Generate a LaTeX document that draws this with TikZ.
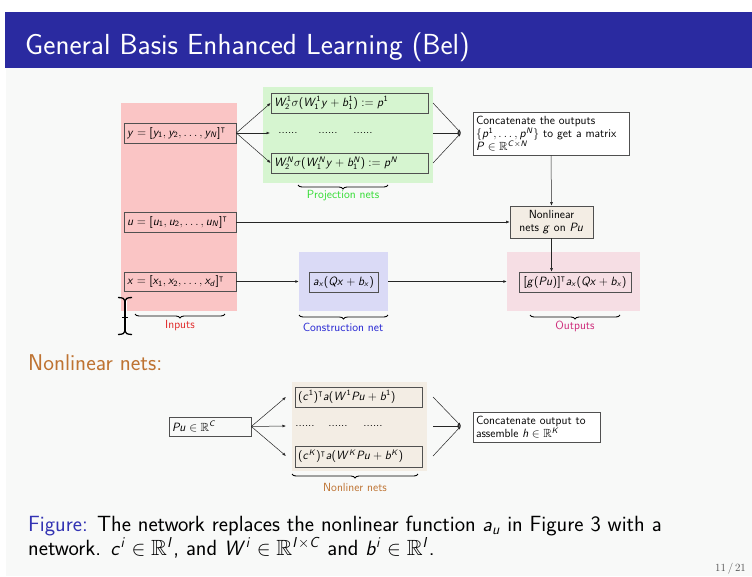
\documentclass[tikz,border=0pt]{standalone}
\usepackage{amsmath,amssymb}
\SetSymbolFont{operators}{normal}{OT1}{cmss}{m}{n}
\DeclareSymbolFont{sfletters}{OT1}{cmss}{m}{sl}
\newcommand\sfl[1]{\DeclareMathSymbol{#1}{\mathalpha}{sfletters}{`#1}}
\sfl a\sfl b\sfl c\sfl d\sfl e\sfl f\sfl g\sfl h\sfl i\sfl j\sfl k\sfl l\sfl m
\sfl n\sfl o\sfl p\sfl q\sfl r\sfl s\sfl t\sfl u\sfl v\sfl w\sfl x\sfl y\sfl z
\sfl A\sfl B\sfl C\sfl D\sfl E\sfl F\sfl G\sfl H\sfl I\sfl J\sfl K\sfl L\sfl M
\sfl N\sfl O\sfl P\sfl Q\sfl R\sfl S\sfl T\sfl U\sfl V\sfl W\sfl X\sfl Y\sfl Z
\usetikzlibrary{arrows.meta,decorations.pathreplacing,calc}
\definecolor{titleblue}{RGB}{42,42,160}
\definecolor{bodybg}{RGB}{248,249,248}
\definecolor{inred}{RGB}{250,197,197}
\definecolor{projgreen}{RGB}{214,245,208}
\definecolor{consblue}{RGB}{218,218,246}
\definecolor{outpink}{RGB}{246,222,228}
\definecolor{beige}{RGB}{243,237,228}
\definecolor{boxgray}{RGB}{80,80,80}
\definecolor{lblgreen}{RGB}{51,220,51}
\definecolor{lblred}{RGB}{225,40,40}
\definecolor{lblblue}{RGB}{35,35,210}
\definecolor{lblmag}{RGB}{205,40,120}
\definecolor{lblorange}{RGB}{190,115,50}
\definecolor{figblue}{RGB}{51,51,179}
\begin{document}
\begin{tikzpicture}[x=1pt,y=-1pt,
  font=\sffamily,
  dfont/.style={font=\fontsize{11.8}{13.2}\selectfont\sffamily},
  bgrect/.style={draw=none,inner sep=0pt,minimum width=#1},
  ebox/.style={draw=boxgray,line width=0.6pt,inner sep=0pt,dfont},
  lbox/.style={ebox,align=left,inner xsep=3pt,text width=#1},
  dots/.style={dfont,inner sep=0pt},
  conn/.style={draw=black!85,line width=0.5pt,-{Latex[length=3.5pt,width=2.8pt]}},
  bracestyle/.style={decorate,decoration={brace,mirror,amplitude=4pt},line width=0.9pt},
  lbl/.style={dfont,inner sep=0pt}
]
\useasboundingbox (0,0) rectangle (752,576);
% background
\fill[white] (0,0) rectangle (752,576);
\fill[bodybg] (6,68) rectangle (752,576);
\fill[titleblue] (5,12) rectangle (752,68);
\node[anchor=base west,inner sep=0pt,text=white,font=\fontsize{29}{35}\selectfont\sffamily] (title) at (25,54) {General Basis Enhanced Learning (Bel)};

% ---- upper diagram backgrounds
\node[bgrect=116pt,minimum height=208pt,fill=inred] (inbg) at (179,207) {};
\node[bgrect=170pt,minimum height=96pt,fill=projgreen] (projbg) at (348,135) {};
\node[bgrect=89pt,minimum height=59pt,fill=consblue] (consbg) at (343.5,281.5) {};
\node[bgrect=133pt,minimum height=59pt,fill=outpink] (outbg) at (573.5,281.5) {};

% inputs
\node[lbox=106pt,minimum height=20pt] (ybox) at (180,133) {$y=[y_1,y_2,\ldots,y_N]^\intercal$};
\node[lbox=106pt,minimum height=20pt] (ubox) at (180,222) {$u=[u_1,u_2,\ldots,u_N]^\intercal$};
\node[lbox=106pt,minimum height=19pt] (xbox) at (180,281.5) {$x=[x_1,x_2,\ldots,x_d]^\intercal$};

% projection nets
\node[lbox=151pt,minimum height=20pt] (p1) at (349.5,103) {$W_2^1\sigma(W_1^1y+b_1^1):=p^1$};
\node[lbox=151pt,minimum height=20pt] (pN) at (349.5,163) {$W_2^N\sigma(W_1^Ny+b_1^N):=p^N$};
\node[dots] (pd1) at (288,133) {......};
\node[dots] (pd2) at (328,133) {......};
\node[dots] (pd3) at (363,133) {......};
\coordinate (pmid) at (270,133);
\coordinate (pr1) at (433,103);
\coordinate (prm) at (433,133);
\coordinate (prN) at (433,163);
\coordinate (cin) at (461,133);

% concat box
\node[ebox,fill=white,align=left,text width=150pt,inner xsep=3pt,minimum height=43pt] (concat) at (551,133.5)
  {Concatenate the outputs\\ $\{p^1,\ldots,p^N\}$ to get a matrix\\ $P\in\mathbb{R}^{C\times N}$};
% nonlinear
\node[ebox,fill=beige,align=center,minimum width=83pt,minimum height=32pt] (nonlin) at (551.5,222) {Nonlinear\\ nets $g$ on $Pu$};
% construction
\node[ebox,minimum width=69pt,minimum height=20pt] (cons) at (343.5,282) {$a_x(Qx+b_x)$};
% output
\node[ebox,minimum width=112pt,minimum height=20pt] (outbox) at (575,282) {$[g(Pu)]^\intercal a_x(Qx+b_x)$};

% connectors upper
\draw[conn] (ybox.east) -- (p1.west);
\draw[conn] (ybox.east) -- (pmid);
\draw[conn] (ybox.east) -- (pN.west);
\draw[conn] (pr1) -- (cin);
\draw[conn] (prm) -- (cin);
\draw[conn] (prN) -- (cin);
\draw[conn] (concat.south) -- (nonlin.north);
\draw[conn] (nonlin.south) -- (nonlin.south |- outbox.north);
\draw[conn] (ubox.east) -- (nonlin.west);
\draw[conn] (xbox.east) -- (consbg.west);
\draw[conn] (consbg.east) -- (outbg.west);

% braces and labels
\draw[bracestyle] (135,314) -- (225,314);
\node[lbl,text=lblred] (linputs) at (180,326) {Inputs};
\draw[bracestyle] (298,185) -- (388,185);
\node[lbl,text=lblgreen] (lproj) at (343,196) {Projection nets};
\draw[bracestyle] (299,315) -- (388,315);
\node[lbl,text=lblblue] (lcons) at (343,327) {Construction net};
\draw[bracestyle] (530,315) -- (620,315);
\node[lbl,text=lblmag] (lout) at (575,326) {Outputs};

% I-beam cursor
\draw[line width=3pt,white] (125,299) -- (125,333);
\draw[line width=1.6pt,black] (125,300) -- (125,332);
\draw[line width=1.3pt,black] (118,297.5) .. controls (123,297.5) and (125,299) .. (125,301);
\draw[line width=1.3pt,black] (132,297.5) .. controls (127,297.5) and (125,299) .. (125,301);
\draw[line width=1.3pt,black] (118,334.5) .. controls (123,334.5) and (125,333) .. (125,331);
\draw[line width=1.3pt,black] (132,334.5) .. controls (127,334.5) and (125,333) .. (125,331);
\draw[line width=1pt,black] (122,317) -- (128,317);

% ---- Nonlinear nets section
\node[anchor=base west,inner sep=0pt,text=lblorange,font=\fontsize{22.8}{27}\selectfont\sffamily] (nlhead) at (28,370) {Nonlinear nets:};

\node[bgrect=135pt,minimum height=89pt,fill=beige] (nlbg) at (359.5,426.5) {};
\node[lbox=76pt,minimum height=19pt] (pubox) at (210,426.5) {$Pu\in\mathbb{R}^C$};
\node[lbox=121pt,minimum height=20pt] (c1) at (358.5,397) {$(c^1)^\intercal a(W^1Pu+b^1)$};
\node[lbox=121pt,minimum height=21pt] (cK) at (358.5,456.5) {$(c^K)^\intercal a(W^KPu+b^K)$};
\node[dots] (cd1) at (305,426) {......};
\node[dots] (cd2) at (338,426) {......};
\node[dots] (cd3) at (373,426) {......};
\coordinate (cl1) at (286,397);
\coordinate (clm) at (286,426);
\coordinate (clK) at (286,456);
\coordinate (cr1) at (433,397);
\coordinate (crm) at (433,426);
\coordinate (crK) at (433,456);
\coordinate (hin) at (461,426);
\node[ebox,fill=white,align=left,text width=121pt,inner xsep=3pt,minimum height=30pt] (concath) at (536.5,427)
  {Concatenate output to\\ assemble $h\in\mathbb{R}^K$};

\draw[conn] (pubox.east) -- (cl1);
\draw[conn] (pubox.east) -- (clm);
\draw[conn] (pubox.east) -- (clK);
\draw[conn] (cr1) -- (hin);
\draw[conn] (crm) -- (hin);
\draw[conn] (crK) -- (hin);

\draw[bracestyle] (292,474) -- (418,474);
\node[lbl,text=lblorange] (lnl) at (355,487) {Nonliner nets};

% caption
\node[anchor=base west,inner sep=0pt,font=\fontsize{22}{26}\selectfont\sffamily] (cap1) at (28,531)
  {{\color{figblue}Figure:} The network replaces the nonlinear function $a_u$ in Figure 3 with a};
\node[anchor=base west,inner sep=0pt,font=\fontsize{22}{26}\selectfont\sffamily] (cap2) at (28,555)
  {network. $c^i\in\mathbb{R}^I$, and $W^i\in\mathbb{R}^{I\times C}$ and $b^i\in\mathbb{R}^I$.};

% page number
\node[anchor=base east,inner sep=0pt,text=black!70,font=\fontsize{11}{13}\selectfont\rmfamily] (pg) at (746,571) {11\,/\,21};
\end{tikzpicture}
\end{document}
